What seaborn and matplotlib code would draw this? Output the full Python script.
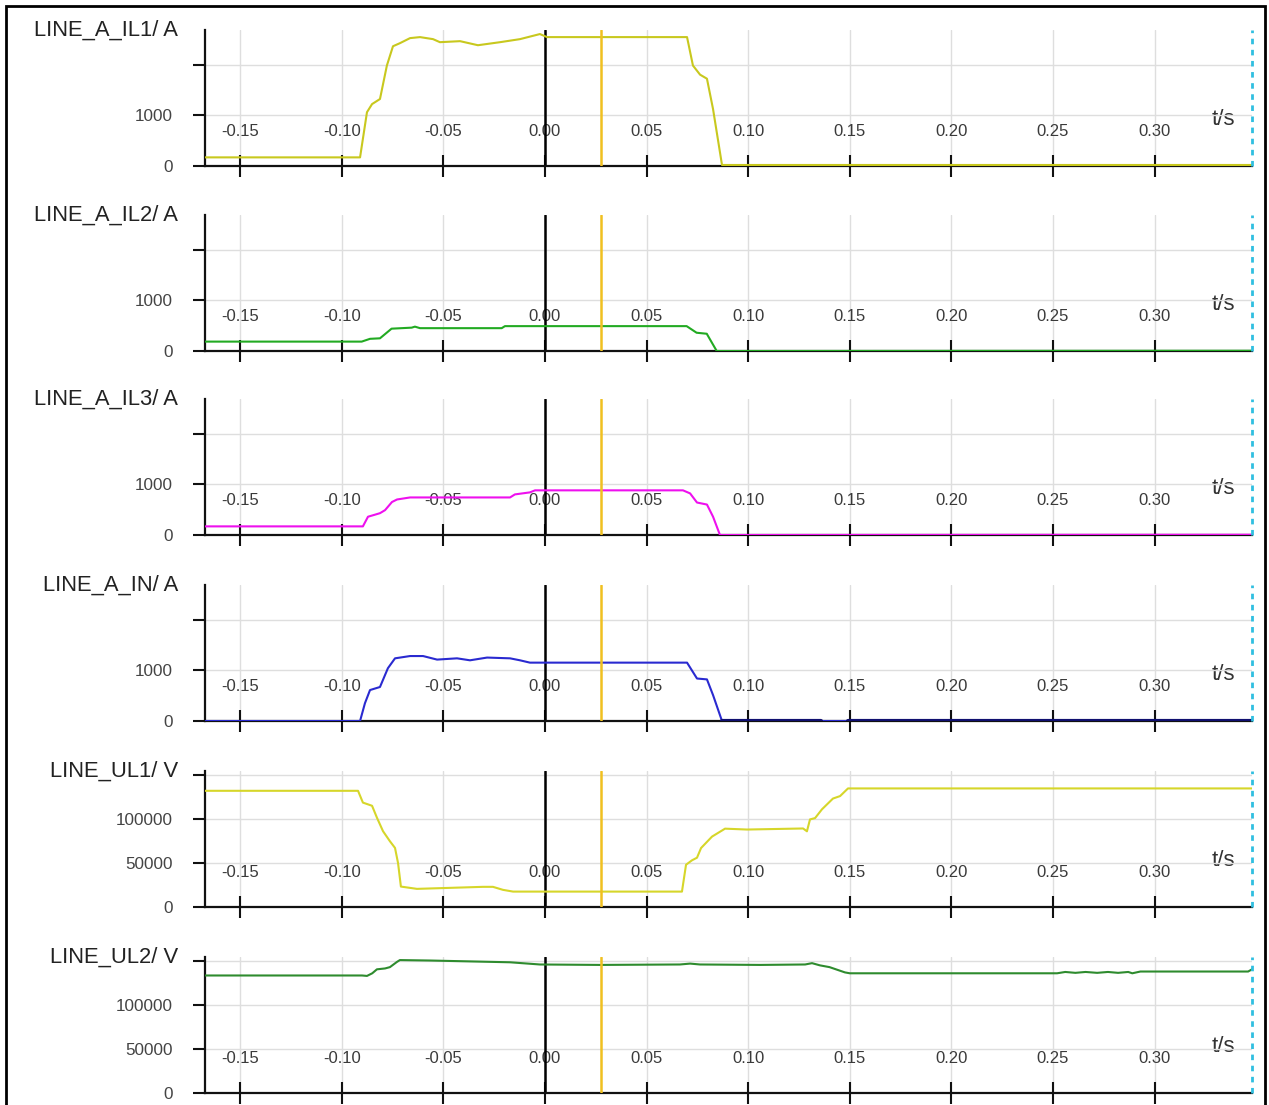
import numpy as np
import pandas as pd
import matplotlib
matplotlib.use("Agg")
import matplotlib.pyplot as plt
import seaborn as sns
from matplotlib.patches import Rectangle

sns.set_theme(style="white")
plt.rcParams['font.family'] = ['Liberation Sans', 'DejaVu Sans']
plt.rcParams['axes.unicode_minus'] = False

# ---------------- data ----------------
T_MIN, T_MAX = -0.1673, 0.3479
t_ticks = [-0.15, -0.10, -0.05, 0.00, 0.05, 0.10, 0.15, 0.20, 0.25, 0.30]
cursor_t = 0.0276

il1_t = [-0.1673, -0.0910, -0.0876, -0.0851, -0.0812, -0.0778, -0.0748, -0.0714, -0.0664,
         -0.0615, -0.0551, -0.0517, -0.0418, -0.0330, -0.0221, -0.0123, -0.0025, 0.0010,
         0.0699, 0.0728, 0.0763, 0.0797, 0.0827, 0.0871, 0.3479]
il1_v = [170, 170, 1060, 1220, 1320, 1980, 2360, 2420, 2520,
         2540, 2500, 2440, 2460, 2380, 2440, 2500, 2600, 2540,
         2540, 1980, 1800, 1720, 1120, 20, 20]

il2_t = [-0.1673, -0.0902, -0.0861, -0.0812, -0.0755, -0.0656, -0.0640, -0.0615, -0.0213,
         -0.0197, 0.0697, 0.0746, 0.0796, 0.0845, 0.3479]
il2_v = [185, 185, 240, 250, 440, 460, 480, 450, 450,
         490, 490, 360, 340, 0, 5]

il3_t = [-0.1673, -0.0896, -0.0871, -0.0837, -0.0812, -0.0787, -0.0753, -0.0728, -0.0664,
         -0.0172, -0.0148, -0.0074, -0.0049, 0.0679, 0.0714, 0.0748, 0.0797, 0.0827, 0.0861, 0.3479]
il3_v = [170, 170, 360, 400, 430, 490, 650, 700, 740,
         740, 800, 840, 880, 880, 820, 640, 600, 360, 0, 5]

in_t = [-0.1673, -0.0910, -0.0886, -0.0861, -0.0812, -0.0773, -0.0738, -0.0664, -0.0600,
        -0.0531, -0.0433, -0.0369, -0.0285, -0.0172, -0.0123, -0.0074, 0.0699, 0.0748,
        0.0797, 0.0827, 0.0871, 0.1360, 0.1370, 0.1480, 0.1490, 0.3479]
in_v = [0, 0, 350, 610, 670, 1040, 1235, 1280, 1280,
        1210, 1235, 1196, 1250, 1235, 1196, 1150, 1150, 837,
        820, 510, 0, 0, 0, 0, 0, 0]

ul1_t = [-0.1673, -0.0920, -0.0896, -0.0851, -0.0827, -0.0797, -0.0763, -0.0738, -0.0723,
         -0.0709, -0.0630, -0.0305, -0.0256, -0.0207, -0.0157, 0.0674, 0.0694, 0.0723,
         0.0748, 0.0768, 0.0822, 0.0886, 0.0994, 0.1270, 0.1289, 0.1304, 0.1329, 0.1363,
         0.1417, 0.1452, 0.1491, 0.3479]
ul1_v = [132000, 132000, 118600, 115000, 101500, 86100, 74700, 67100, 49800,
         23200, 20600, 22900, 22900, 19500, 17500, 17500, 48000, 53000,
         56000, 67000, 80000, 89000, 88000, 89200, 86000, 99500, 101000, 111000,
         123200, 126000, 134700, 134700]

ul2_t = [-0.1673, -0.0900, -0.0876, -0.0850, -0.0827, -0.0787, -0.0763, -0.0728, -0.0714,
         -0.0566, -0.0369, -0.0172, -0.0025, 0.0270, 0.0664, 0.0714, 0.0763, 0.1060,
         0.1280, 0.1314, 0.1353, 0.1400, 0.1476, 0.1500, 0.2520, 0.2560, 0.2610, 0.2660,
         0.2717, 0.2770, 0.2820, 0.2870, 0.2890, 0.2930, 0.3460, 0.3479]
ul2_v = [133500, 133500, 133000, 136000, 140500, 141500, 143000, 149000, 151000,
         150500, 149500, 148500, 146000, 145500, 146000, 147000, 146000, 145500,
         146000, 147500, 145000, 143000, 137000, 136000, 136000, 137500, 136500, 137500,
         136500, 137500, 136500, 137500, 136000, 138000, 138000, 140500]

panels = [
    ("LINE_A_IL1/ A", il1_t, il1_v, "#c8c81e", "cur"),
    ("LINE_A_IL2/ A", il2_t, il2_v, "#22aa22", "cur"),
    ("LINE_A_IL3/ A", il3_t, il3_v, "#ee10ee", "cur"),
    ("LINE_A_IN/ A", in_t, in_v, "#2a2ad0", "cur"),
    ("LINE_UL1/ V", ul1_t, ul1_v, "#d6d62a", "volt"),
    ("LINE_UL2/ V", ul2_t, ul2_v, "#2e8b2e", "volt"),
]
cur_ticks = [0, 1000, 2000]
cur_labels = ["0", "1000", ""]
volt_ticks = [0, 50000, 100000, 150000]
volt_labels = ["0", "50000", "100000", ""]
CUR_MAX, VOLT_MAX = 2680, 154500

# ---------------- figure ----------------
W, H = 1269, 1105
fig = plt.figure(figsize=(W / 100, H / 100), dpi=100)
fig.patch.set_facecolor("white")

left = 205 / W
width = (1252 - 205) / W
zeros = [166, 351, 535, 721, 907, 1093]
ph = 136

for i, (label, tt, vv, col, kind) in enumerate(panels):
    ax = fig.add_axes([left, 1 - zeros[i] / H, width, ph / H])
    df = pd.DataFrame({"t": tt, "v": vv})
    ax.set_axisbelow(True)
    ax.grid(True, color="#dedede", lw=1)
    sns.lineplot(data=df, x="t", y="v", ax=ax, color=col, lw=1.5, zorder=4,
                 estimator=None, sort=False)
    if label == "LINE_A_IN/ A":
        post = df[(df.t >= 0.0871) & ~((df.t > 0.1362) & (df.t < 0.1488))]
        post1 = post[post.t <= 0.1362]
        post2 = post[post.t >= 0.1488]
        for p in (post1, post2):
            sns.lineplot(data=p, x="t", y="v", ax=ax, color="#101070", lw=3,
                         zorder=5, estimator=None, sort=False)
    ax.axvline(0, color="black", lw=1.8, zorder=3)
    ax.axvline(cursor_t, color="#f0c020", lw=1.8, zorder=6)
    ax.axvline(T_MAX, color="#30bfe0", lw=2, ls=(0, (2, 2)), zorder=6, clip_on=False)

    ax.set_xlim(T_MIN, T_MAX)
    if kind == "cur":
        ax.set_ylim(0, CUR_MAX)
        ax.set_yticks(cur_ticks)
        ax.set_yticklabels(cur_labels)
    else:
        ax.set_ylim(0, VOLT_MAX)
        ax.set_yticks(volt_ticks)
        ax.set_yticklabels(volt_labels)
    ax.set_xticks(t_ticks)
    ax.set_xticklabels([f"{t:.2f}" for t in t_ticks])

    for s in ("top", "right"):
        ax.spines[s].set_visible(False)
    for s in ("left", "bottom"):
        ax.spines[s].set_color("#111111")
        ax.spines[s].set_linewidth(1.6)
        ax.spines[s].set_zorder(3)

    ax.tick_params(axis="x", direction="inout", length=16, width=1.5, color="#111111",
                   pad=-38, labelsize=12, labelcolor="#3a3a3a", bottom=True)
    ax.tick_params(axis="y", direction="out", length=9, width=1.5, color="#111111",
                   pad=14, labelsize=12.3, labelcolor="#444444", left=True)

    ax.set_ylabel(label, rotation=0, ha="right", va="center", fontsize=15.8,
                  color="#222222")
    ax.yaxis.set_label_coords(-0.026, 1.0)
    ax.set_xlabel("t/s", fontsize=16, color="#333333")
    ax.xaxis.set_label_coords(0.973, 0.34)
    ax.xaxis.label.set_va("center")

fig.add_artist(Rectangle((6 / W, -0.01), (1265 - 6) / W, 1 - 6 / H + 0.01,
                         transform=fig.transFigure, fill=False, ec="black", lw=2))

fig.savefig("out.png", dpi=100, facecolor="white")
